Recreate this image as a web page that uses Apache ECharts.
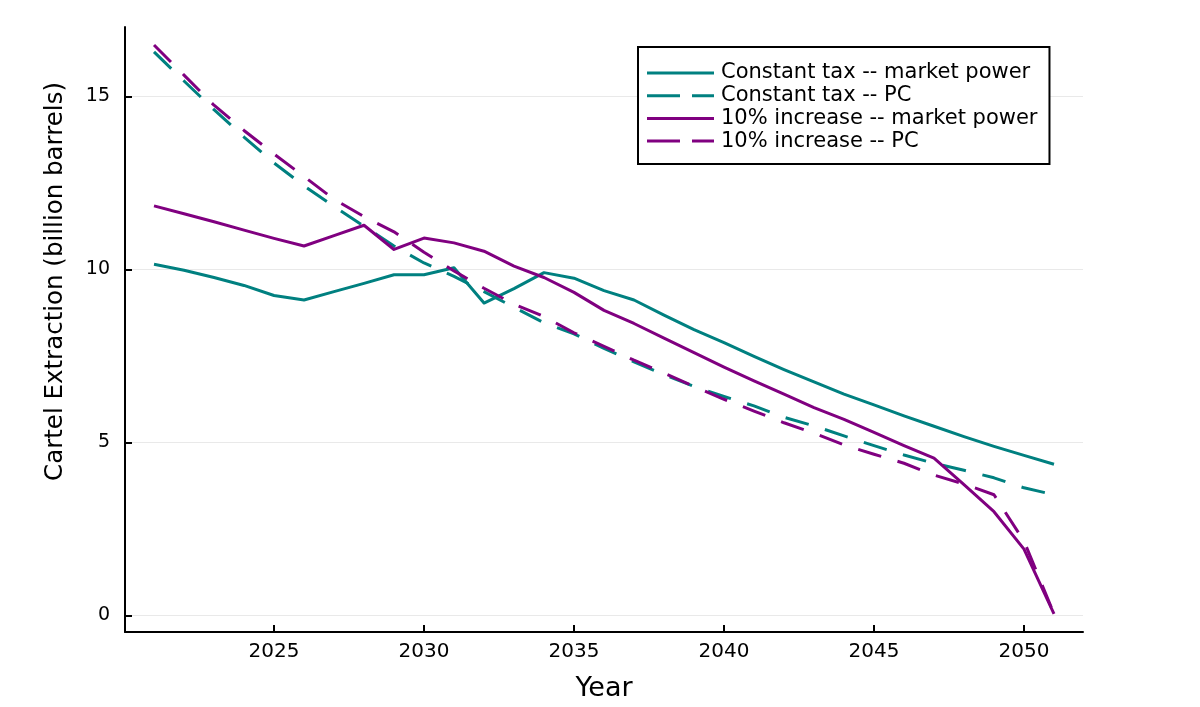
<!DOCTYPE html>
<html>
<head>
<meta charset="utf-8">
<script src="https://cdn.jsdelivr.net/npm/echarts@6/dist/echarts.min.js"></script>
<style>
html,body{margin:0;padding:0;background:#fff;overflow:hidden;}
#chart{width:1200px;height:707px;}
</style>
</head>
<body>
<div id="chart"></div>
<script>
const years = [2021,2022,2023,2024,2025,2026,2027,2028,2029,2030,2031,2032,2033,2034,2035,2036,2037,2038,2039,2040,2041,2042,2043,2044,2045,2046,2047,2048,2049,2050,2051];
const constTaxMP = [10.15,9.98,9.77,9.54,9.25,9.12,9.36,9.6,9.85,9.85,10.05,9.03,9.45,9.91,9.75,9.39,9.12,8.68,8.26,7.89,7.49,7.11,6.75,6.4,6.09,5.77,5.47,5.17,4.89,4.63,4.37];
const constTaxPC = [16.29,15.45,14.62,13.83,13.08,12.42,11.82,11.25,10.68,10.19,9.8,9.36,8.91,8.46,8.14,7.72,7.33,6.96,6.62,6.33,6.06,5.73,5.48,5.19,4.91,4.64,4.4,4.2,3.98,3.69,3.49];
const incMP = [11.84,11.61,11.38,11.14,10.9,10.68,10.98,11.28,10.58,10.91,10.77,10.53,10.1,9.77,9.34,8.82,8.44,8.02,7.6,7.18,6.78,6.4,6.01,5.67,5.29,4.91,4.55,3.78,3.0,1.92,0.05];
const incPC = [16.49,15.62,14.75,14.02,13.34,12.69,12.03,11.53,11.09,10.5,9.96,9.46,9.0,8.64,8.17,7.78,7.38,7.01,6.62,6.25,5.91,5.57,5.27,4.93,4.66,4.4,4.06,3.8,3.49,2.15,0.05];
const xTicks = [2025,2030,2035,2040,2045,2050];
const yTicks = [0,5,10,15];
const seriesNames = ['Constant tax -- market power','Constant tax -- PC','10% increase -- market power','10% increase -- PC'];

const TEAL = '#008080', PURPLE = '#800080';
const FONT = 'DejaVu Sans';
const SOLID_ICON = 'path://M0,0H0.05V0.05H0Z M0,5.5H67V8.5H0Z M66.95,13.95H67V14H66.95Z';
const DASH_ICON = 'path://M0,0H0.05V0.05H0Z M0,5.5H33V8.5H0Z M45,5.5H67V8.5H45Z M66.95,13.95H67V14H66.95Z';
function pairs(v){ return years.map((y,i)=>[y,v[i]]); }
function mk(name, data, color, dashed){
  return {
    name, type:'line', data: pairs(data), showSymbol:false, symbol:'none', animation:false,
    lineStyle:{color, width:3, type: dashed ? [24,17] : 'solid', cap:'butt', join:'round'},
    itemStyle:{color}
  };
}
const chart = echarts.init(document.getElementById('chart'), null, {renderer:'canvas', width:1200, height:707});
chart.setOption({
  animation:false,
  backgroundColor:'#fff',
  grid:{left:125, right:117, top:27, bottom:68, containLabel:false},
  legend:{
    orient:'vertical', left:638, top:47,
    data: [
      {name:seriesNames[0], icon:SOLID_ICON},
      {name:seriesNames[1], icon:DASH_ICON},
      {name:seriesNames[2], icon:SOLID_ICON},
      {name:seriesNames[3], icon:DASH_ICON}
    ],
    itemWidth:67, itemHeight:14, itemGap:0.7,
    padding:[15,12,12,9],
    borderColor:'#000', borderWidth:2, backgroundColor:'#fff', borderRadius:0,
    textStyle:{fontFamily:FONT, fontSize:21, lineHeight:22, color:'#000', padding:[0,0,0,2]}
  },
  xAxis:{
    type:'value', min:2020.033, max:2051.967,
    name:'Year', nameLocation:'middle', nameGap:43,
    nameTextStyle:{fontFamily:FONT, fontSize:27, color:'#000', verticalAlign:'top'},
    axisLine:{show:true, onZero:false, lineStyle:{color:'#000', width:2}},
    axisTick:{show:true, inside:true, length:7, lineStyle:{color:'#000', width:2}, customValues:xTicks},
    axisLabel:{fontFamily:FONT, fontSize:20, color:'#000', margin:10, customValues:xTicks, formatter:v=>String(v)},
    splitLine:{show:false}
  },
  yAxis:{
    type:'value', min:-0.477, max:17.01,
    name:'Cartel Extraction (billion barrels)', nameLocation:'middle', nameGap:57, nameRotate:90,
    nameTextStyle:{fontFamily:FONT, fontSize:24.5, color:'#000', padding:[0,0,0,96]},
    axisLine:{show:true, onZero:false, lineStyle:{color:'#000', width:2}},
    axisTick:{show:true, inside:true, length:7, lineStyle:{color:'#000', width:2}, customValues:yTicks},
    axisLabel:{fontFamily:FONT, fontSize:19, color:'#000', margin:15, customValues:yTicks, formatter:v=>String(v)},
    splitLine:{show:true, lineStyle:{color:'#e9e9e9', width:1}}
  },
  series:[
    mk(seriesNames[0], constTaxMP, TEAL, false),
    mk(seriesNames[1], constTaxPC, TEAL, true),
    mk(seriesNames[2], incMP, PURPLE, false),
    mk(seriesNames[3], incPC, PURPLE, true)
  ]
});
</script>
</body>
</html>
